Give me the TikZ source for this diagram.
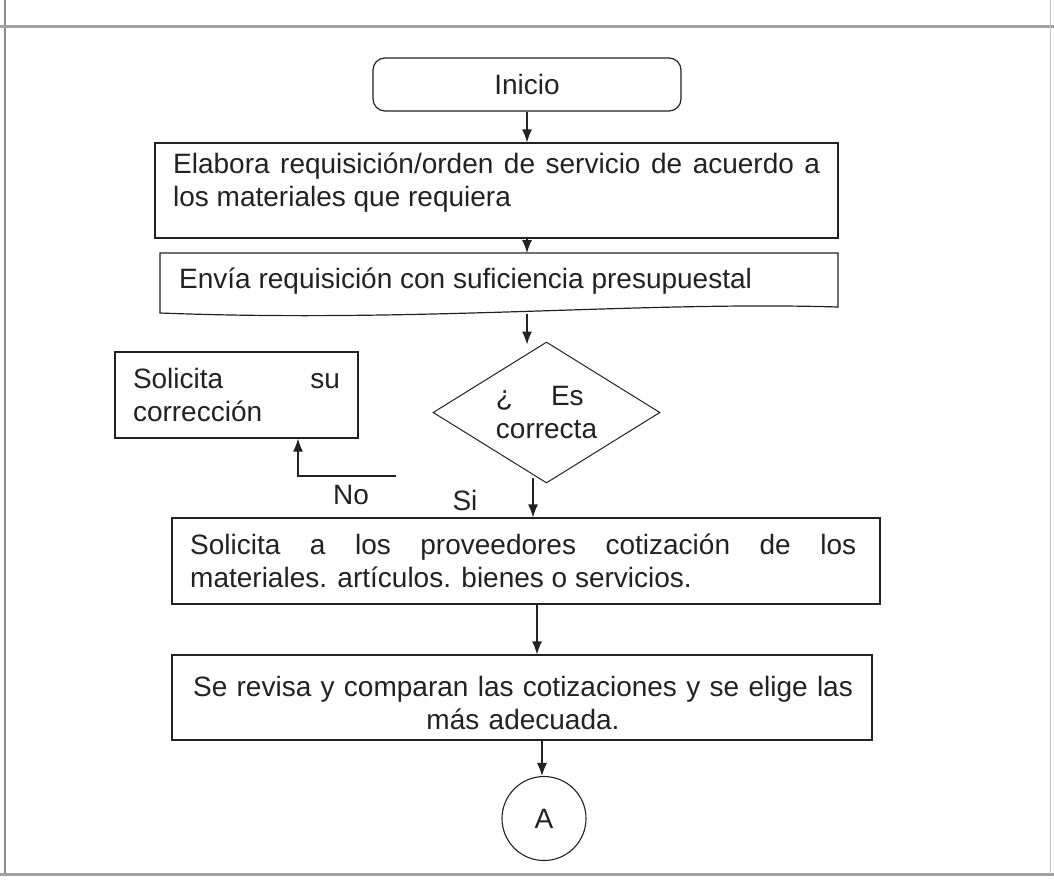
\documentclass[tikz,border=0pt]{standalone}
\usepackage{fontspec}
\setmainfont{Liberation Sans}
\usetikzlibrary{shapes.geometric,arrows.meta,calc}
\definecolor{ink}{HTML}{222222}
\definecolor{framegray}{HTML}{8A8A8A}
\begin{document}
\begin{tikzpicture}[x=1pt,y=-1pt,
  txt/.style={font=\fontsize{28}{33}\selectfont, text=ink},
  shapebox/.style={draw=ink, line width=1.2pt, rectangle, inner sep=0pt},
  lbl/.style={txt, inner sep=0pt},
  arr/.style={draw=ink, line width=1.2pt, -{Latex[length=13pt,width=10pt]}}]
\useasboundingbox (0,0) rectangle (1054,881);
\fill[white] (0,0) rectangle (1054,881);
% frame
\draw[framegray, line width=1.5pt] (5,0) -- (5,874);
\draw[framegray!80, line width=3pt] (0,26) -- (1054,26);
\draw[framegray!80, line width=3pt] (0,874) -- (1054,874);
\draw[framegray!50, line width=1pt] (1050,0) -- (1050,874);
% Inicio
\node[txt, shapebox, rounded corners=12pt, minimum width=308pt, minimum height=53pt] (inicio) at (527,84.5) {Inicio};
% Elabora
\node[shapebox, minimum width=683pt, minimum height=95pt] (elab) at (496.5,190.5) {};
\node[lbl, text width=647pt, align=justify, anchor=north west] (elabt) at (173,153)
  {Elabora requisición/orden de servicio de acuerdo a\linebreak los materiales que requiera};
% Envia (document shape)
\coordinate (envtl) at (160,253);
\coordinate (envtr) at (838,253);
\coordinate (envbr) at (838,307);
\coordinate (envbl) at (160,313);
\coordinate (envb) at (527,314);
\draw[ink, line width=1.2pt] (envtl) -- (envtr) -- (envbr) .. controls (640,301) and (420,323) .. (envbl) -- cycle;
\node[lbl, anchor=west] (envia) at (179,281) {Envía requisición con suficiencia presupuestal};
% decision
\node[txt, draw=ink, line width=1pt, diamond, aspect=1.61, minimum width=227pt, minimum height=141pt, inner sep=0pt, align=left] (dia) at (546.5,412.5)
  {¿\hspace{38pt}Es\\correcta};
% correction box
\node[shapebox, minimum width=243pt, minimum height=86pt] (corr) at (236.5,395) {};
\node[lbl, text width=207pt, align=justify] (corrt) at (236.5,395)
  {Solicita su\linebreak corrección};
% providers box
\node[shapebox, minimum width=708pt, minimum height=86pt] (prov) at (526,561) {};
\node[lbl, text width=666pt, align=justify, anchor=west] (provt) at (190,561)
  {Solicita a los proveedores cotización de los\linebreak materiales. artículos. bienes o servicios.};
% review box
\node[shapebox, minimum width=700pt, minimum height=85pt] (rev) at (522,697.5) {};
\node[lbl, text width=680pt, align=center] (revt) at (523,703) 
  {Se revisa y comparan las cotizaciones y se elige las\\más adecuada.};
% connector A
\node[txt, draw=ink, line width=1.1pt, circle, minimum size=84pt, inner sep=0pt] (conA) at (544,818.5) {A};
% labels
\node[lbl] (no) at (351,495) {No};
\node[lbl] (si) at (465,500) {Si};
% connectors
\coordinate (c1) at (527,0);
\draw[arr] (inicio.south) -- (inicio.south |- elab.north);
\draw[arr] (c1 |- elab.south) -- (c1 |- envtl);
\draw[arr] (envb) -- ([yshift=-3pt]envb |- dia.north);
\coordinate (nostart) at (396,476);
\coordinate (nox) at (298,476);
\draw[arr] (nostart) -- (nox) -- (nox |- corr.south);
\coordinate (c4) at (533,478);
\draw[arr] (c4) -- (c4 |- prov.north);
\coordinate (c5) at (537,0);
\draw[arr] (c5 |- prov.south) -- (c5 |- rev.north);
\coordinate (c6) at (542,0);
\draw[arr] (c6 |- rev.south) -- (c6 |- conA.north);
\end{tikzpicture}
\end{document}
